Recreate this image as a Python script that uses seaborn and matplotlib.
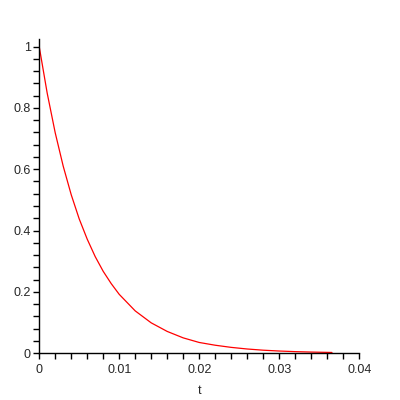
import numpy as np
import pandas as pd
import matplotlib
matplotlib.use('Agg')
import matplotlib.pyplot as plt
import seaborn as sns
from matplotlib.ticker import MultipleLocator

# values
t_vals = [0.0, 0.001, 0.002, 0.003, 0.004, 0.005, 0.006, 0.007, 0.008, 0.009,
          0.010, 0.012, 0.014, 0.016, 0.018, 0.020, 0.022, 0.024, 0.026,
          0.028, 0.030, 0.032, 0.034, 0.0366]
y_vals = [1.0, 0.848, 0.719, 0.610, 0.517, 0.438, 0.372, 0.315, 0.267, 0.227,
          0.192, 0.138, 0.099, 0.071, 0.050, 0.035, 0.026, 0.019, 0.0137,
          0.0098, 0.0071, 0.0051, 0.0037, 0.0024]

x_ticks = [0, 0.01, 0.02, 0.03, 0.04]
x_labels = ['0', '0.01', '0.02', '0.03', '0.04']
y_ticks = [0, 0.2, 0.4, 0.6, 0.8, 1.0]
y_labels = ['0', '0.2', '0.4', '0.6', '0.8', '1']

df = pd.DataFrame({'t': t_vals, 'y': y_vals})

sns.set_style('white')
plt.rcParams['font.family'] = ['Liberation Sans', 'DejaVu Sans']

fig = plt.figure(figsize=(4, 4), dpi=100)
ax = fig.add_axes([0.098, 0.117, 0.8, 0.785])

sns.lineplot(data=df, x='t', y='y', color='red', linewidth=0.9, ax=ax)

ax.set_xlim(0, 0.04)
ax.set_ylim(0, 1.024)
ax.set_xticks(x_ticks)
ax.set_xticklabels(x_labels)
ax.set_yticks(y_ticks)
ax.set_yticklabels(y_labels)
ax.xaxis.set_minor_locator(MultipleLocator(0.002))
ax.yaxis.set_minor_locator(MultipleLocator(0.04))

for s in ['top', 'right']:
    ax.spines[s].set_visible(False)
for s in ['left', 'bottom']:
    ax.spines[s].set_color('black')
    ax.spines[s].set_linewidth(1.0)

ax.tick_params(which='both', direction='out', length=4, width=1, color='black',
               labelsize=9, left=True, bottom=True)
ax.tick_params(axis='x', pad=4)
ax.tick_params(axis='y', pad=2)
ax.set_xlabel('t', fontsize=9, labelpad=6)
ax.set_ylabel('')

fig.savefig('out.png', dpi=100)
